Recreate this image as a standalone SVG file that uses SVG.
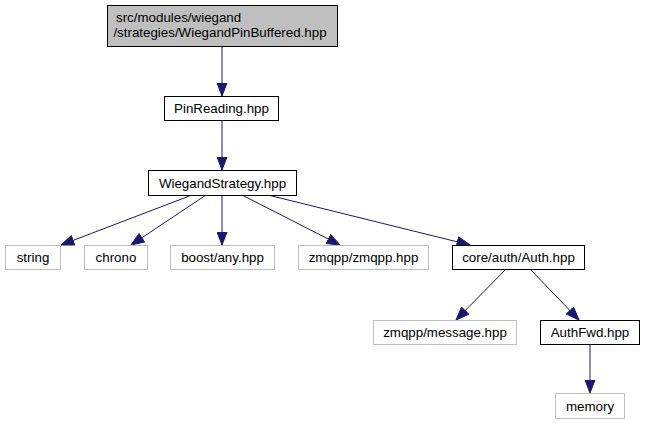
<svg xmlns="http://www.w3.org/2000/svg" width="645" height="425" viewBox="0 0 645 425">
<style>
text{font-family:"Liberation Sans",Arial,Helvetica,sans-serif;font-size:13.33px;fill:#000}
.n rect{fill:#fff;stroke:#000;stroke-width:1}
.g rect{fill:#fff;stroke:#bfbfbf;stroke-width:1}
.r rect{fill:#bfbfbf;stroke:#000;stroke-width:1}
.e path{fill:none;stroke:#191970;stroke-width:1;marker-end:url(#ah)}
</style>
<defs>
<marker id="ah" markerUnits="userSpaceOnUse" markerWidth="14" markerHeight="11" viewBox="0 0 14 11" refX="13.5" refY="5.5" orient="auto">
<path d="M0.5,0.5 L13.5,5.5 L0.5,10.5 Z" fill="#191970" stroke="#191970" stroke-width="1"/>
</marker>
</defs>
<rect width="645" height="425" fill="#fff"/>
<g id="edges" class="e">
<path d="M222,46 V96"/>
<path d="M222,121 V170"/>
<path d="M192,195 L61,245"/>
<path d="M206,195 L131,245"/>
<path d="M222,195 V245"/>
<path d="M242,195 L340,245"/>
<path d="M268,195 L470,245"/>
<path d="M506,269 L456,320"/>
<path d="M530,269 L579,320"/>
<path d="M590,344 V393"/>
</g>
<g id="root" class="r"><rect x="107.5" y="5.5" width="230" height="41"/><text x="116" y="21.5">src/modules/wiegand</text><text x="220" y="36.5" text-anchor="middle">/strategies/WiegandPinBuffered.hpp</text></g>
<g id="pinreading" class="n"><rect x="164.5" y="96.5" width="114" height="24"/><text x="221.5" y="113" text-anchor="middle">PinReading.hpp</text></g>
<g id="wiegandstrategy" class="n"><rect x="148.5" y="170.5" width="148" height="25"/><text x="222.5" y="187.5" text-anchor="middle">WiegandStrategy.hpp</text></g>
<g id="string" class="g"><rect x="5.5" y="245.5" width="55" height="24"/><text x="33" y="262" text-anchor="middle">string</text></g>
<g id="chrono" class="g"><rect x="84.5" y="245.5" width="63" height="24"/><text x="116" y="262" text-anchor="middle">chrono</text></g>
<g id="boostany" class="g"><rect x="170.5" y="245.5" width="104" height="24"/><text x="222.5" y="262" text-anchor="middle">boost/any.hpp</text></g>
<g id="zmqpp" class="g"><rect x="298.5" y="245.5" width="130" height="24"/><text x="363.5" y="262" text-anchor="middle">zmqpp/zmqpp.hpp</text></g>
<g id="auth" class="n"><rect x="452.5" y="245.5" width="132" height="24"/><text x="518.5" y="262" text-anchor="middle">core/auth/Auth.hpp</text></g>
<g id="message" class="g"><rect x="373.5" y="320.5" width="143" height="24"/><text x="445" y="337" text-anchor="middle">zmqpp/message.hpp</text></g>
<g id="authfwd" class="n"><rect x="540.5" y="320.5" width="99" height="24"/><text x="590" y="337" text-anchor="middle">AuthFwd.hpp</text></g>
<g id="memory" class="g"><rect x="555.5" y="393.5" width="69" height="25"/><text x="590" y="410.5" text-anchor="middle">memory</text></g>
</svg>
